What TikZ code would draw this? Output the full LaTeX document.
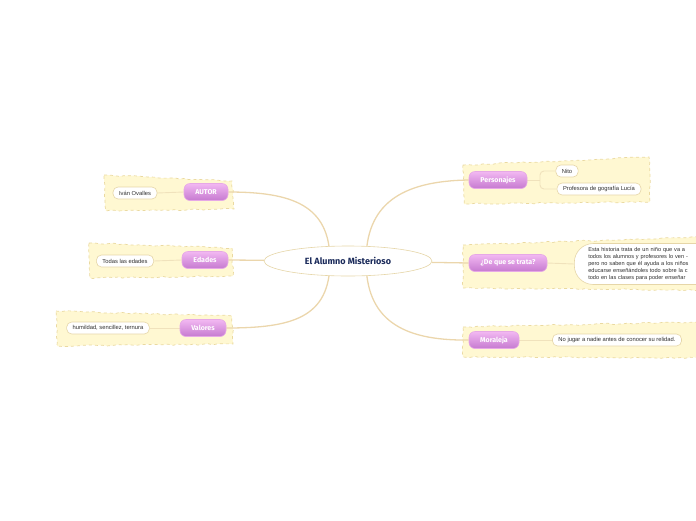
\documentclass[tikz,border=0pt]{standalone}
\usepackage{fontspec}
\setmainfont{Liberation Sans}
\newfontfamily\pillfont{Fira Sans}
\newfontfamily\titlefont{Fira Sans}
\usetikzlibrary{shapes.geometric,decorations.pathmorphing,backgrounds}
\definecolor{bgyellow}{HTML}{FFF8D2}
\definecolor{bgborder}{HTML}{EAD9A0}
\definecolor{conn}{HTML}{EBD6AC}
\definecolor{subconn}{HTML}{F0E2BC}
\definecolor{pinktop}{HTML}{F2B8F2}
\definecolor{pinkbot}{HTML}{C67AD0}
\definecolor{pinkedge}{HTML}{E6A8E6}
\definecolor{lblborder}{HTML}{E6D6A8}
\definecolor{navy}{HTML}{1A2A5A}
\definecolor{txt}{HTML}{303030}
\begin{document}
\begin{tikzpicture}[x=1pt,y=-1pt,
  bgzone/.style={fill=bgyellow, draw=bgborder, dashed, line width=0.7pt, decorate,
    decoration={random steps, segment length=5pt, amplitude=0.7pt}},
  mainconn/.style={draw=conn, line width=1.3pt},
  subline/.style={draw=subconn, line width=0.9pt},
  pill/.style={rounded corners=6pt, minimum height=17pt, top color=pinktop, bottom color=pinkbot,
    draw=pinkedge, line width=0.6pt, text=white, font=\pillfont\bfseries\fontsize{7}{8}\selectfont, inner xsep=3pt},
  lbl/.style={rounded corners=5pt, fill=white, draw=lblborder, line width=0.6pt, text=txt,
    font=\fontsize{5.8}{6.5}\selectfont, minimum height=12pt, inner xsep=6pt, inner ysep=1pt},
  central/.style={ellipse, draw=lblborder, fill=white, line width=0.6pt, minimum width=168pt,
    minimum height=30pt, text=navy, font=\titlefont\bfseries\fontsize{9}{10}\selectfont},
  para/.style={rounded corners=19pt, fill=white, draw=lblborder, line width=0.6pt, text=txt,
    minimum height=41pt, text width=150pt, inner xsep=14pt, align=left,
    font=\fontsize{5.6}{7.2}\selectfont}
]
\useasboundingbox (0,0) rectangle (696,520);
\begin{pgfonlayer}{background}
\path[bgzone] (104,175) -- (232,181) -- (234,209) -- (106,211) -- cycle;
\path[bgzone] (89,243) -- (232,248) -- (233,276) -- (90,278) -- cycle;
\path[bgzone] (56,311) -- (232,316) -- (233,344) -- (57,346) -- cycle;
\path[bgzone] (463,165) -- (649,157) -- (650,202) -- (464,204) -- cycle;
\path[bgzone] (463,245) -- (700,237) -- (700,290) -- (463,288) -- cycle;
\path[bgzone] (463,327) -- (700,322) -- (700,358) -- (463,357) -- cycle;
\end{pgfonlayer}

\node[central] (c) at (348,261) {El Alumno Misterioso};
\coordinate (cl) at (330,261);
\coordinate (cr) at (366,261);

\node[pill, minimum width=44pt] (autor) at (206,192) {AUTOR};
\node[lbl] (ivan) at (135,193) {Iván Ovalles};
\node[pill, minimum width=46pt] (edades) at (205,260) {Edades};
\node[lbl] (todas) at (125,261) {Todas las edades};
\node[pill, minimum width=46pt] (valores) at (203,328) {Valores};
\node[lbl] (hum) at (108,328) {humildad, sencillez, ternura};

\node[pill, minimum width=58pt] (pers) at (498,180) {Personajes};
\node[lbl] (nito) at (567,171) {Nito};
\node[lbl] (prof) at (599,189) {Profesora de gografía Lucía};
\coordinate (pb) at (540,180);
\node[pill, minimum width=78pt] (trata) at (508,263) {¿De que se trata?};
\node[para, anchor=west] (desc) at (574,264) {Esta historia trata de un niño que va a\\
todos los alumnos y profesores lo ven -\\
pero no saben que él ayuda a los niños\\
educarse enseñándoles todo sobre la c\\
todo en las clases para poder enseñar};
\node[pill, minimum width=50pt] (moral) at (494,340) {Moraleja};
\node[lbl] (nojugar) at (617,340) {No jugar a nadie antes de conocer su relidad.};

\begin{pgfonlayer}{background}
\draw[mainconn] (cl) .. controls (330,205) and (292,192) .. (autor.east);
\draw[mainconn] (c) -- (edades.east);
\draw[mainconn] (cl) .. controls (330,318) and (292,328) .. (valores.east);
\draw[mainconn] (cr) .. controls (366,205) and (400,181) .. (pers.west);
\draw[mainconn] (c) -- (trata.west);
\draw[mainconn] (cr) .. controls (366,318) and (400,341) .. (moral.west);
\draw[subline] (autor.west) -- (ivan.east);
\draw[subline] (edades.west) -- (todas.east);
\draw[subline] (valores.west) -- (hum.east);
\draw[subline] (pers.east) -- (pb);
\draw[subline, rounded corners=4pt] (pb) |- (nito.west);
\draw[subline, rounded corners=4pt] (pb) |- (prof.west);
\draw[subline] (trata.east) -- (desc.west);
\draw[subline] (moral.east) -- (nojugar.west);
\end{pgfonlayer}
\end{tikzpicture}
\end{document}
